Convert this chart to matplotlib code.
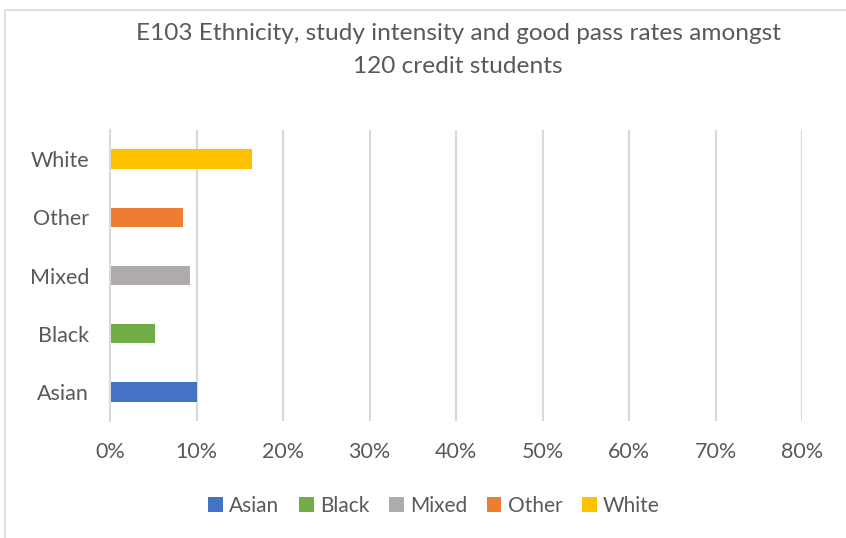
import matplotlib.pyplot as plt
from matplotlib.patches import Rectangle
from matplotlib.ticker import PercentFormatter

# data
groups = ['Asian', 'Black', 'Mixed', 'Other', 'White']
good_pass = [10.0, 5.2, 9.3, 8.4, 16.4]
colours = ['#4472c4', '#70ad47', '#afabab', '#ed7d31', '#ffc000']
xticks = [0, 10, 20, 30, 40, 50, 60, 70, 80]

W, H = 846, 538
plt.rcParams['font.family'] = ['Lato', 'DejaVu Sans']
text_col = '#595959'

fig = plt.figure(figsize=(W / 100, H / 100), dpi=100)

# chart-area border (light grey, runs off right and bottom edge)
fig.patches.append(Rectangle((5 / W, 1 - 540 / H), 850 / W, 530 / H,
                             transform=fig.transFigure, fill=False,
                             edgecolor='#d9d9d9', linewidth=1.2))

ax = fig.add_axes([110 / W, 1 - 421 / H, 692 / W, 291 / H])
bars = ax.barh(groups, good_pass, height=0.33, color=colours)

ax.set_xlim(0, 80)
ax.set_ylim(-0.5, 4.5)
ax.set_xticks(xticks)
ax.xaxis.set_major_formatter(PercentFormatter(decimals=0))
ax.grid(axis='x', color='#d9d9d9', linewidth=1.5)
ax.set_axisbelow(True)
for s in ['top', 'right', 'bottom']:
    ax.spines[s].set_visible(False)
ax.spines['left'].set_color('#d9d9d9')
ax.spines['left'].set_linewidth(1.5)
ax.tick_params(length=0, labelsize=15.5, labelcolor=text_col)
ax.tick_params(axis='x', pad=15)
ax.tick_params(axis='y', pad=15)

fig.text(458 / W, 1 - 33 / H, 'E103 Ethnicity, study intensity and good pass rates amongst',
         ha='center', va='center', fontsize=17.6, color=text_col)
fig.text(458 / W, 1 - 66 / H, '120 credit students',
         ha='center', va='center', fontsize=17.6, color=text_col)

fig.legend(bars, groups, loc='center', bbox_to_anchor=(434 / W, 1 - 506 / H),
           ncol=5, frameon=False, fontsize=15, labelcolor=text_col,
           handlelength=0.7, handleheight=0.7, handletextpad=0.3,
           columnspacing=0.95)

fig.savefig('out.png', dpi=100)
